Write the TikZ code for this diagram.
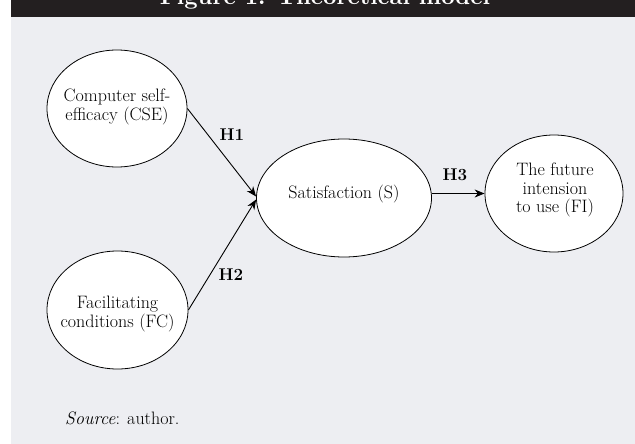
\documentclass[tikz,border=0pt]{standalone}
\usetikzlibrary{shapes.geometric,arrows.meta}
\definecolor{bgGrey}{HTML}{EDEEF2}
\definecolor{barBlack}{HTML}{231F20}
\begin{document}
\begin{tikzpicture}[x=1pt,y=-1pt,
 ell/.style={draw=black,fill=white,ellipse,line width=0.8pt,inner sep=0pt},
 lbl/.style={font=\fontsize{18}{18.5}\selectfont,align=center,inner sep=0pt},
 hyp/.style={font=\fontsize{17}{18}\selectfont\bfseries,inner sep=0pt},
 arr/.style={line width=0.9pt,-{Stealth[length=10pt,width=8pt]}}]
\useasboundingbox (0,0) rectangle (635,444);
\fill[white] (0,0) rectangle (635,444);
\fill[bgGrey] (11,17.5) rectangle (635,444);
\fill[barBlack] (11,0) rectangle (635,17.5);
\begin{scope}
\clip (11,0) rectangle (635,17.5);
\node[anchor=base,text=white,inner sep=0pt] (title) at (325,4.5) {\resizebox{330pt}{!}{\bfseries Figure 1: Theoretical model}};
\end{scope}
\node[ell,minimum width=140pt,minimum height=117pt] (cse) at (117,108.5) {};
\node[ell,minimum width=141pt,minimum height=118pt] (fc) at (117.5,310) {};
\node[ell,minimum width=175pt,minimum height=118pt] (s) at (344,198) {};
\node[ell,minimum width=138pt,minimum height=117pt] (fi) at (554,193.5) {};
\node[lbl] (cseT) at (117,107) {Computer self-\\efficacy (CSE)};
\node[lbl] (fcT) at (117.5,314) {Facilitating\\conditions (FC)};
\node[lbl] (sT) at (344,194) {Satisfaction (S)};
\node[lbl] (fiT) at (555,190) {The future\\intension\\to use (FI)};
\draw[arr] (cse.east) -- ([yshift=1.5pt]s.west);
\draw[arr] (fc.east) -- ([yshift=-1.5pt]s.west);
\draw[arr] (s.east |- fi.west) -- (fi.west);
\node[hyp] (h1) at (232,135) {H1};
\node[hyp] (h2) at (231,275) {H2};
\node[hyp] (h3) at (455,175) {H3};
\node[lbl,anchor=base west] (src) at (65,424) {\textit{Source}: author.};
\end{tikzpicture}
\end{document}
